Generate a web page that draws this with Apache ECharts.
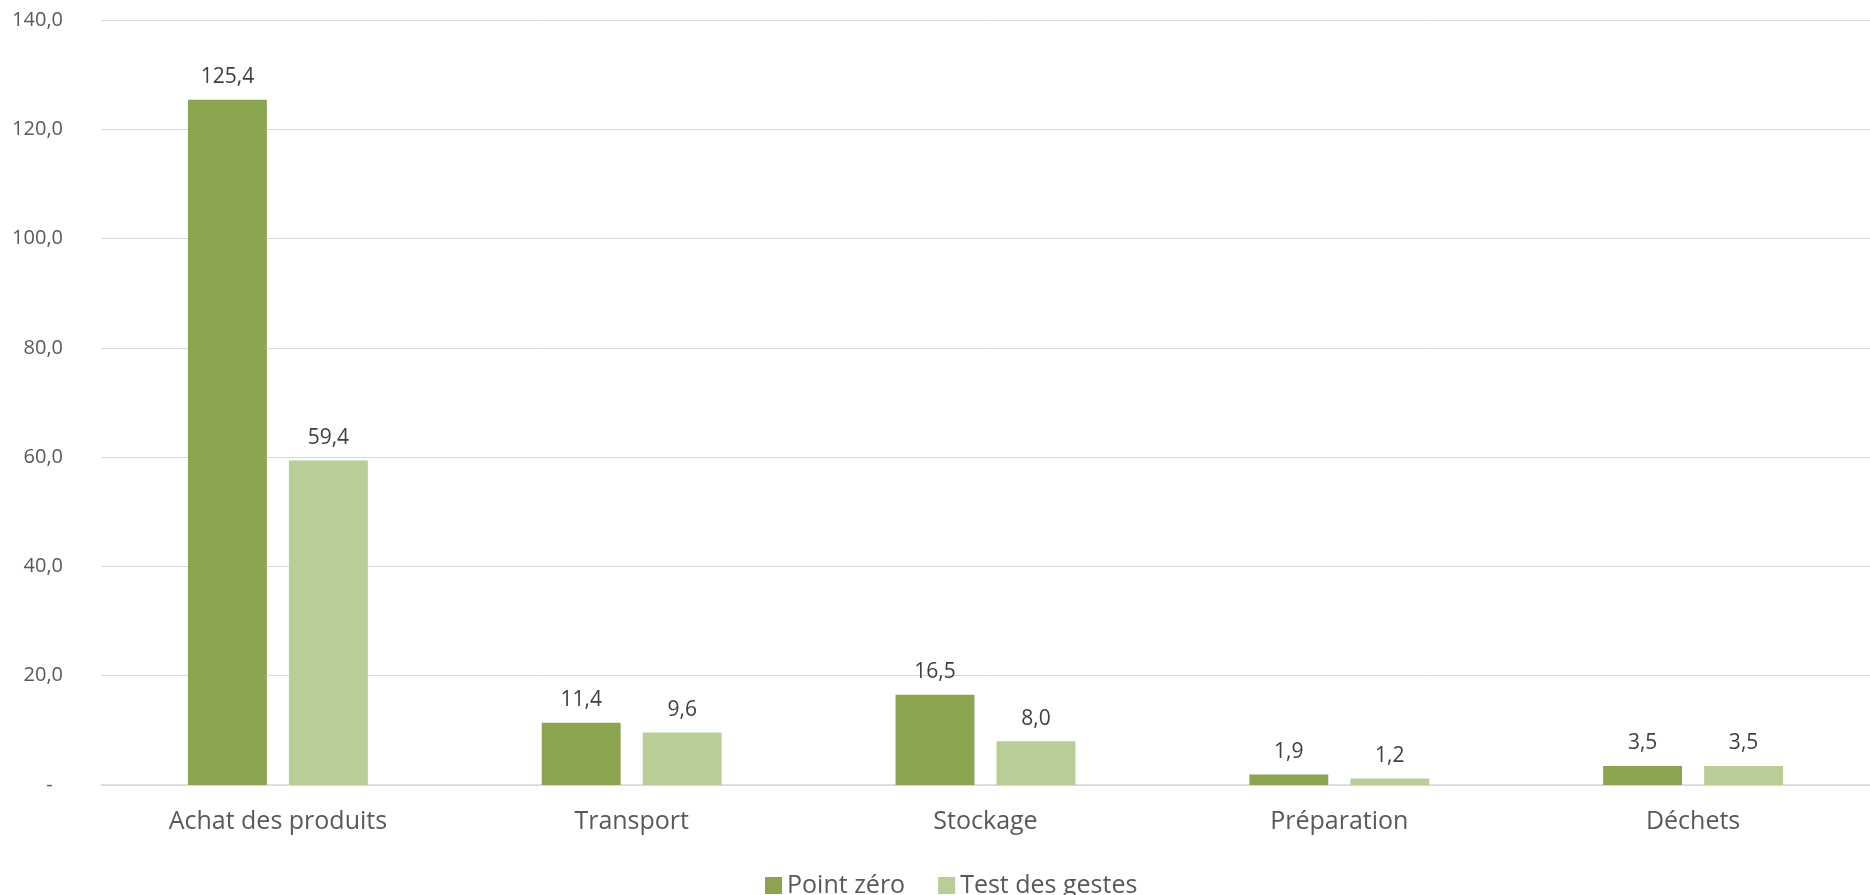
<!DOCTYPE html>
<html><head><meta charset="utf-8">
<script src="https://cdn.jsdelivr.net/npm/echarts@6/dist/echarts.min.js"></script>
<style>html,body{margin:0;padding:0;background:#fff}#c{width:1870px;height:895px}</style>
</head><body><div id="c"></div>
<script>
const categories = ["Achat des produits", "Transport", "Stockage", "Préparation", "Déchets"];
const pointZero = [125.4, 11.4, 16.5, 1.9, 3.5];
const testGestes = [59.4, 9.6, 8.0, 1.2, 3.5];
const seriesNames = ["Point zéro", "Test des gestes"];

const fmt = v => v === 0 ? '-  ' : v.toFixed(1).replace('.', ',');
const font = "'Open Sans', sans-serif";
const chart = echarts.init(document.getElementById('c'));
chart.setOption({
  animation: false,
  textStyle: { fontFamily: font },
  grid: { left: 101, top: 20, width: 1776, height: 765, containLabel: false },
  legend: {
    top: 868, left: 760, itemWidth: 17, itemHeight: 17, itemGap: 33,
    icon: 'rect',
    textStyle: { fontSize: 25, color: '#595959', fontFamily: font }
  },
  xAxis: {
    type: 'category', data: categories,
    axisLine: { lineStyle: { color: '#d9d9d9', width: 1.5 } },
    axisTick: { show: false },
    axisLabel: { fontSize: 25, color: '#595959', margin: 24, fontFamily: font }
  },
  yAxis: {
    type: 'value', min: 0, max: 140, interval: 20,
    splitLine: { lineStyle: { color: '#d9d9d9', width: 1 } },
    axisLine: { show: false }, axisTick: { show: false },
    axisLabel: { fontSize: 20, color: '#595959', margin: 38, formatter: fmt, fontFamily: font }
  },
  series: [
    { name: seriesNames[0], type: 'bar', data: pointZero, barWidth: '22.3%', barGap: '28%',
      itemStyle: { color: '#8aa54e' },
      label: { show: true, position: 'top', distance: 12, fontSize: 21, color: '#404040', formatter: p => fmt(p.value) } },
    { name: seriesNames[1], type: 'bar', data: testGestes, barWidth: '22.3%', barGap: '28%',
      itemStyle: { color: '#b9ce96' },
      label: { show: true, position: 'top', distance: 12, fontSize: 21, color: '#404040', formatter: p => fmt(p.value) } }
  ]
});
</script></body></html>
